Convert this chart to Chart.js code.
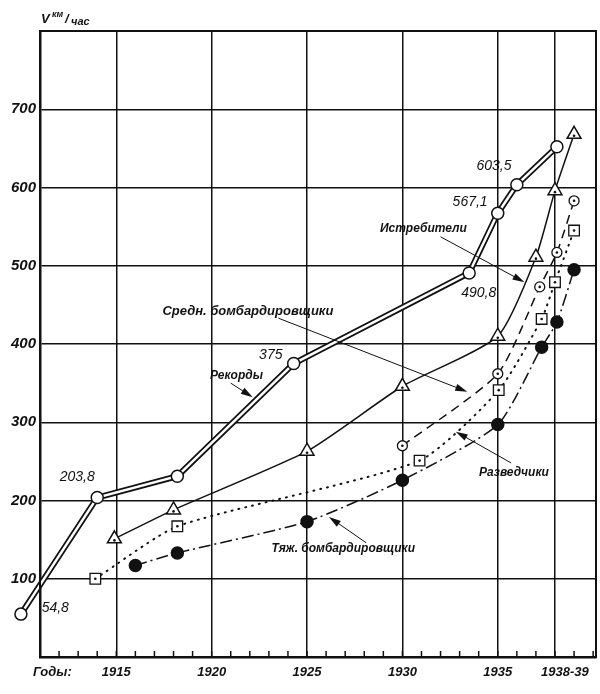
<!DOCTYPE html>
<html>
<head>
<meta charset="utf-8">
<script src="https://cdn.jsdelivr.net/npm/chart.js@4.4.1/dist/chart.umd.min.js"></script>
<style>
  html, body { margin: 0; padding: 0; background: #fff; overflow: hidden; }
  canvas { display: block; }
</style>
</head>
<body>
<canvas id="speedChart" width="600" height="694"></canvas>
<script>
// Рекорды
const recYears = [1910, 1914, 1918.2, 1924.3, 1933.5, 1935, 1936, 1938.1];
const recSpeed = [54.8, 203.8, 231, 375, 490.8, 567.1, 603.5, 652];
// Истребители
const fightYears = [1914.9, 1918, 1925, 1930, 1935, 1937, 1938, 1939];
const fightSpeed = [151, 188, 263, 346, 410, 511, 596, 668];
// Средн. бомбардировщики
const medYears = [1930, 1935, 1937.2, 1938.1, 1939];
const medSpeed = [270, 362, 473, 517, 583];
// Разведчики
const scoutYears = [1913.9, 1918.2, 1930.9, 1935.05, 1937.3, 1938, 1939];
const scoutSpeed = [100, 167, 251, 341, 432, 479, 545];
// Тяж. бомбардировщики
const heavyYears = [1916, 1918.2, 1925, 1930, 1935, 1937.3, 1938.1, 1939];
const heavySpeed = [117, 133, 173, 226, 297, 396, 428, 495];

// оси
const gridYears = [1915, 1920, 1925, 1930, 1935, 1938];
const yearLabels = ["1915", "1920", "1925", "1930", "1935", "1938-39"];
const speedTicks = [100, 200, 300, 400, 500, 600, 700];

const ink = "#111";
const face = '"Liberation Sans", Arial, sans-serif';

const pts = (xs, ys) => xs.map((v, i) => ({ x: v, y: ys[i] }));

// подписи на поле графика (в единицах осей)
const notes = [
  { t: "54,8", x: 1911.8, y: 62, f: "italic 14px" },
  { t: "203,8", x: 1912.95, y: 230, f: "italic 14px" },
  { t: "375", x: 1923.1, y: 386, f: "italic 14px" },
  { t: "490,8", x: 1934.0, y: 465, f: "italic 14px" },
  { t: "567,1", x: 1933.55, y: 581, f: "italic 14px" },
  { t: "603,5", x: 1934.8, y: 627, f: "italic 14px" },
  { t: "Рекорды", x: 1921.3, y: 359, f: "italic bold 12px" },
  { t: "Средн. бомбардировщики", x: 1921.9, y: 442, f: "italic bold 13px" },
  { t: "Истребители", x: 1931.1, y: 547, f: "italic bold 12px" },
  { t: "Разведчики", x: 1935.85, y: 235, f: "italic bold 12px" },
  { t: "Тяж. бомбардировщики", x: 1926.9, y: 138, f: "italic bold 12px" },
];
const arrows = [
  [1921.0, 350, 1922.15, 332],
  [1923.5, 433, 1933.4, 339],
  [1932.0, 537, 1936.4, 479],
  [1935.7, 248, 1932.8, 288],
  [1928.1, 146, 1926.15, 179],
];

const everywhere = { left: -1e4, top: -1e4, right: 1e4, bottom: 1e4 };

const scanNotes = {
  id: "scanNotes",
  afterDatasetsDraw(chart) {
    const ctx = chart.ctx;
    const a = chart.chartArea;
    ctx.save();
    chart.data.datasets.forEach((ds, i) => {
      const meta = chart.getDatasetMeta(i);
      // значки левее оси тоже рисуем
      if (ds.pointRadius > 0) {
        meta.data.forEach(p => {
          if (p.x < a.left) p.draw(ctx, everywhere);
        });
      }
      // точки в центре значков
      if (!ds.dotted) return;
      ctx.fillStyle = ink;
      meta.data.forEach(p => {
        ctx.beginPath();
        ctx.arc(p.x, p.y + (ds.pointStyle === "triangle" ? 1.5 : 0), 1.3, 0, Math.PI * 2);
        ctx.fill();
      });
    });
    ctx.restore();
  },
  afterDraw(chart) {
    const { ctx, chartArea: a, scales: { x, y } } = chart;
    ctx.save();
    ctx.strokeStyle = ink;
    ctx.fillStyle = ink;

    // рамка
    ctx.lineWidth = 2;
    ctx.strokeRect(a.left, a.top, a.right - a.left, a.bottom - a.top);

    // годовые засечки
    ctx.lineWidth = 1.5;
    for (let yr = 1912; yr <= 1940; yr++) {
      const px = x.getPixelForValue(yr);
      ctx.beginPath();
      ctx.moveTo(px, a.bottom);
      ctx.lineTo(px, a.bottom - 6);
      ctx.stroke();
    }

    // подписи лет
    ctx.font = "italic bold 13px " + face;
    ctx.textBaseline = "middle";
    gridYears.forEach((yr, i) => {
      const px = x.getPixelForValue(yr);
      if (i === gridYears.length - 1) {
        ctx.textAlign = "left";
        ctx.fillText(yearLabels[i], px - 14, a.bottom + 15);
      } else {
        ctx.textAlign = "center";
        ctx.fillText(yearLabels[i], px, a.bottom + 15);
      }
    });
    ctx.textAlign = "left";
    ctx.fillText("Годы:", a.left - 7, a.bottom + 15);

    // заголовок оси
    ctx.font = "italic bold 13px " + face;
    ctx.fillText("V", a.left + 1, a.top - 12);
    ctx.font = "italic bold 9px " + face;
    ctx.fillText("км", a.left + 12, a.top - 16);
    ctx.font = "italic bold 13px " + face;
    ctx.fillText("/", a.left + 25, a.top - 12);
    ctx.font = "italic bold 11px " + face;
    ctx.fillText("час", a.left + 31, a.top - 9);

    // текст на поле
    ctx.textAlign = "center";
    notes.forEach(n => {
      ctx.font = n.f + " " + face;
      ctx.fillText(n.t, x.getPixelForValue(n.x), y.getPixelForValue(n.y));
    });

    // стрелки
    ctx.lineWidth = 1;
    arrows.forEach(([x1, y1, x2, y2]) => {
      const sx = x.getPixelForValue(x1), sy = y.getPixelForValue(y1);
      const ex = x.getPixelForValue(x2), ey = y.getPixelForValue(y2);
      const ang = Math.atan2(ey - sy, ex - sx);
      ctx.beginPath();
      ctx.moveTo(sx, sy);
      ctx.lineTo(ex - 8 * Math.cos(ang), ey - 8 * Math.sin(ang));
      ctx.stroke();
      ctx.beginPath();
      ctx.moveTo(ex, ey);
      ctx.lineTo(ex - 12 * Math.cos(ang) + 3.5 * Math.sin(ang), ey - 12 * Math.sin(ang) - 3.5 * Math.cos(ang));
      ctx.lineTo(ex - 12 * Math.cos(ang) - 3.5 * Math.sin(ang), ey - 12 * Math.sin(ang) + 3.5 * Math.cos(ang));
      ctx.closePath();
      ctx.fill();
    });
    ctx.restore();
  },
};

new Chart(document.getElementById("speedChart"), {
  type: "scatter",
  data: {
    datasets: [
      {
        label: "Рекорды (контур)",
        data: pts(recYears, recSpeed),
        showLine: true,
        borderColor: ink,
        borderWidth: 6,
        pointRadius: 0,
        clip: false,
        order: 2,
      },
      {
        label: "Рекорды",
        data: pts(recYears, recSpeed),
        showLine: true,
        borderColor: "#fff",
        borderWidth: 2.5,
        pointRadius: 6,
        pointBackgroundColor: "#fff",
        pointBorderColor: ink,
        pointBorderWidth: 1.5,
        clip: false,
        order: 1,
      },
      {
        label: "Истребители",
        data: pts(fightYears, fightSpeed),
        showLine: true,
        tension: 0.2,
        borderColor: ink,
        borderWidth: 1.5,
        pointStyle: "triangle",
        pointRadius: 8,
        pointBackgroundColor: "#fff",
        pointBorderColor: ink,
        pointBorderWidth: 1.5,
        dotted: true,
        order: 3,
      },
      {
        label: "Средн. бомбардировщики",
        data: pts(medYears, medSpeed),
        showLine: true,
        tension: 0.2,
        borderColor: ink,
        borderWidth: 1.5,
        borderDash: [9, 6],
        pointRadius: 5,
        pointBackgroundColor: "#fff",
        pointBorderColor: ink,
        pointBorderWidth: 1.3,
        dotted: true,
        order: 4,
      },
      {
        label: "Разведчики",
        data: pts(scoutYears, scoutSpeed),
        showLine: true,
        tension: 0.2,
        borderColor: ink,
        borderWidth: 2,
        borderDash: [1, 6],
        borderCapStyle: "round",
        pointStyle: "rect",
        pointRadius: 7.5,
        pointBackgroundColor: "#fff",
        pointBorderColor: ink,
        pointBorderWidth: 1.3,
        dotted: true,
        order: 5,
      },
      {
        label: "Тяж. бомбардировщики",
        data: pts(heavyYears, heavySpeed),
        showLine: true,
        tension: 0.2,
        borderColor: ink,
        borderWidth: 1.5,
        borderDash: [12, 4, 2, 4],
        pointRadius: 6,
        pointBackgroundColor: ink,
        pointBorderColor: ink,
        order: 6,
      },
    ],
  },
  options: {
    responsive: false,
    animation: false,
    layout: { autoPadding: false, padding: { top: 31, right: 4, left: 0, bottom: 0 } },
    plugins: {
      legend: { display: false },
      tooltip: { enabled: false },
    },
    scales: {
      x: {
        type: "linear",
        min: 1911,
        max: 1940.15,
        afterBuildTicks: scale => {
          scale.ticks = gridYears.map(v => ({ value: v }));
        },
        afterFit: scale => { scale.height = 37; },
        ticks: { display: false },
        grid: { color: ink, lineWidth: 1.5, drawTicks: false },
        border: { color: ink, width: 2.5 },
      },
      y: {
        min: 0,
        max: 800,
        afterBuildTicks: scale => {
          scale.ticks = [0].concat(speedTicks, [800]).map(v => ({ value: v }));
        },
        afterFit: scale => { scale.width = 40; },
        ticks: {
          color: ink,
          padding: 4,
          font: { family: face, size: 15, style: "italic", weight: "bold" },
          callback: v => (speedTicks.includes(v) ? String(v) : ""),
        },
        grid: { color: ink, lineWidth: 1.5, drawTicks: false },
        border: { color: ink, width: 2.5 },
      },
    },
  },
  plugins: [scanNotes],
});
</script>
</body>
</html>
